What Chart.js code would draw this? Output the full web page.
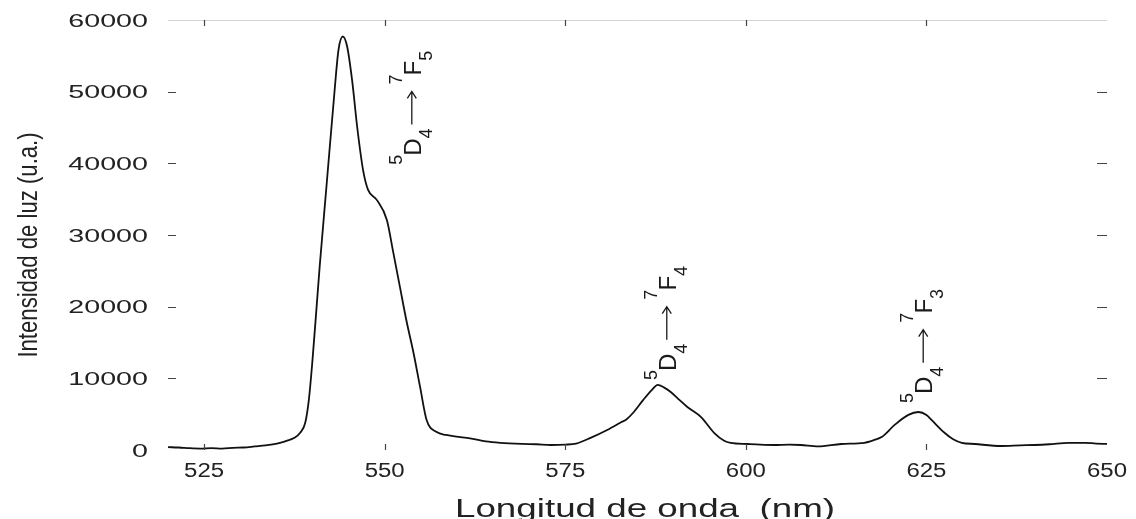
<!DOCTYPE html>
<html>
<head>
<meta charset="utf-8">
<title>Espectro de emision</title>
<script src="https://cdn.jsdelivr.net/npm/chart.js"></script>
<style>
  html, body { margin: 0; padding: 0; background: #fff; }
  #specChart { display: block; }
</style>
</head>
<body>
<canvas id="specChart" width="1136" height="519"></canvas>
<script>
// data
var wavelengths = [520, 521.5, 523, 524.5, 526, 527.5, 529, 530.5, 532, 533.5, 534.5, 535.5, 536.5, 537.5, 538.3, 539,
  539.5, 540, 540.5, 541, 542, 543, 543.6, 544.2, 544.8, 545.5, 546.2, 547, 547.7, 548.9, 550.3, 551.2, 552.1, 553, 554, 554.9, 555.8,
  557.2, 558.5, 560.5, 562, 564, 566, 569, 571, 573, 575, 576.5, 578.5, 580.8, 582.6, 583.5, 584.4, 585.8, 587, 587.8,
  588.7, 589.6, 590.8, 591.9, 593.8, 595.6, 597, 597.9, 600.3, 602, 603.9, 606, 607.6, 610, 613.2, 616.4, 617.8, 618.8,
  620.6, 622.5, 623.9, 625, 625.7, 627.5, 628.7, 629.9, 631.7, 635.4, 638, 640, 642, 644.7, 646.9, 648.5, 650];
var intensity = [400, 350, 250, 200, 250, 200, 300, 350, 500, 650, 800, 1000, 1300, 1700, 2400, 3800,
  7000, 12500, 19000, 25600, 37500, 49400, 55800, 57700, 56300, 51500, 45000, 39100, 36300, 34900, 32100, 27500, 22800, 18100, 13500, 8800, 4200,
  2500, 2100, 1800, 1600, 1200, 1000, 850, 800, 700, 750, 900, 1700, 2800, 3800, 4300, 5200, 7000, 8400, 9100,
  8700, 8100, 7000, 6000, 4600, 2400, 1300, 1000, 840, 750, 700, 750, 700, 500, 840, 1000, 1400, 1800,
  3500, 4900, 5300, 4900, 4200, 2400, 1500, 1000, 840, 560, 650, 700, 800, 1000, 1000, 900, 850];

var xTicks = [525, 550, 575, 600, 625, 650];
var yTicks = [0, 10000, 20000, 30000, 40000, 50000, 60000];

// transitions 5D4 -> 7FJ
var transUpper = ['5', '4', '3'];
var transX = [555.0, 590.3, 625.8];
var transY = [39800, 9770, 6560];

var xTitle = 'Longitud de onda  (nm)';
var yTitle = 'Intensidad de luz (u.a.)';

var fontFam = '"Liberation Sans", Arial, sans-serif';

function stretchedText(ctx, txt, x, y, size, sx, align) {
  ctx.save();
  ctx.translate(x, y);
  ctx.scale(sx, 1);
  ctx.font = size + 'px ' + fontFam;
  ctx.textAlign = align;
  ctx.textBaseline = 'alphabetic';
  ctx.fillText(txt, 0, 0);
  ctx.restore();
}

function drawTransition(ctx, px, py, upper) {
  var parts = [
    {t: '5', k: 'sup'}, {t: 'D', k: 'main'}, {t: '4', k: 'sub'},
    {k: 'arrow'},
    {t: '7', k: 'sup'}, {t: 'F', k: 'main'}, {t: upper, k: 'sub'}
  ];
  ctx.save();
  ctx.translate(px, py);
  ctx.rotate(-Math.PI / 2);
  ctx.fillStyle = '#1a1a1a';
  ctx.strokeStyle = '#1a1a1a';
  ctx.textAlign = 'left';
  ctx.textBaseline = 'alphabetic';
  var pos = 0;
  parts.forEach(function (p) {
    if (p.k == 'arrow') {
      pos += 4;
      ctx.lineWidth = 1.3;
      ctx.beginPath();
      ctx.moveTo(pos, -9);
      ctx.lineTo(pos + 33, -9);
      ctx.moveTo(pos + 26, -13.5);
      ctx.lineTo(pos + 33, -9);
      ctx.lineTo(pos + 26, -4.5);
      ctx.stroke();
      pos += 33 + 7;
      return;
    }
    var size = p.k == 'main' ? 24 : 18;
    var off = p.k == 'sup' ? -19 : (p.k == 'sub' ? 11 : 0);
    ctx.font = size + 'px ' + fontFam;
    ctx.fillText(p.t, pos, off);
    pos += ctx.measureText(p.t).width - (p.k == 'sup' ? 1 : 0);
  });
  ctx.restore();
}

// axes, ticks, titles and labels drawn by hand to copy the scanned figure
var framePlugin = {
  id: 'frame',
  afterDraw: function (chart) {
    var ctx = chart.ctx;
    var xs = chart.scales.x, ys = chart.scales.y;
    var a = chart.chartArea;

    ctx.save();
    // faint top border
    ctx.strokeStyle = '#d4d4d4';
    ctx.lineWidth = 1;
    ctx.beginPath();
    ctx.moveTo(a.left, a.top + 0.5);
    ctx.lineTo(a.right, a.top + 0.5);
    ctx.stroke();

    // inward tick marks
    ctx.strokeStyle = '#444';
    ctx.lineWidth = 1.2;
    ctx.beginPath();
    xTicks.forEach(function (v) {
      if (v >= 650) return;
      var x = Math.round(xs.getPixelForValue(v)) + 0.5;
      ctx.moveTo(x, a.top);
      ctx.lineTo(x, a.top + 6);
      ctx.moveTo(x, a.bottom);
      ctx.lineTo(x, a.bottom - 6);
    });
    yTicks.forEach(function (v) {
      if (v == 0 || v == 60000) return;
      var y = Math.round(ys.getPixelForValue(v)) + 0.5;
      ctx.moveTo(a.left, y);
      ctx.lineTo(a.left + 8, y);
      ctx.moveTo(a.right, y);
      ctx.lineTo(a.right - 10, y);
    });
    ctx.stroke();

    // tick labels
    ctx.fillStyle = '#222';
    yTicks.forEach(function (v) {
      stretchedText(ctx, String(v), 148, ys.getPixelForValue(v) + 6.5, 18.5, 1.55, 'right');
    });
    xTicks.forEach(function (v) {
      stretchedText(ctx, String(v), xs.getPixelForValue(v), 477, 19.5, 1.23, 'center');
    });

    // axis titles
    stretchedText(ctx, xTitle, 645, 517, 25, 1.47, 'center');
    ctx.save();
    ctx.translate(37, 245);
    ctx.rotate(-Math.PI / 2);
    ctx.scale(0.82, 1);
    ctx.font = '27px ' + fontFam;
    ctx.textAlign = 'center';
    ctx.textBaseline = 'alphabetic';
    ctx.fillText(yTitle, 0, 0);
    ctx.restore();

    // transition labels
    for (var i = 0; i < transUpper.length; i++) {
      drawTransition(ctx, xs.getPixelForValue(transX[i]), ys.getPixelForValue(transY[i]), transUpper[i]);
    }
    ctx.restore();
  }
};

var specData = {
  datasets: [
    {
      label: 'Emision',
      data: wavelengths.map(function (w, i) { return {x: w, y: intensity[i]}; }),
      borderColor: '#111',
      borderWidth: 1.8,
      pointRadius: 0,
      fill: false,
      cubicInterpolationMode: 'monotone'
    }
  ]
};

var specOptions = {
  responsive: false,
  devicePixelRatio: 1,
  animation: false,
  layout: { padding: { left: 168, right: 29, top: 20, bottom: 69 } },
  plugins: { legend: { display: false }, tooltip: { enabled: false } },
  scales: {
    x: { type: 'linear', min: 520, max: 650, display: false },
    y: { type: 'linear', min: 0, max: 60000, display: false }
  }
};

var ctx1 = document.getElementById('specChart').getContext('2d');
new Chart(ctx1, {type: 'line', data: specData, options: specOptions, plugins: [framePlugin]});
</script>
</body>
</html>
